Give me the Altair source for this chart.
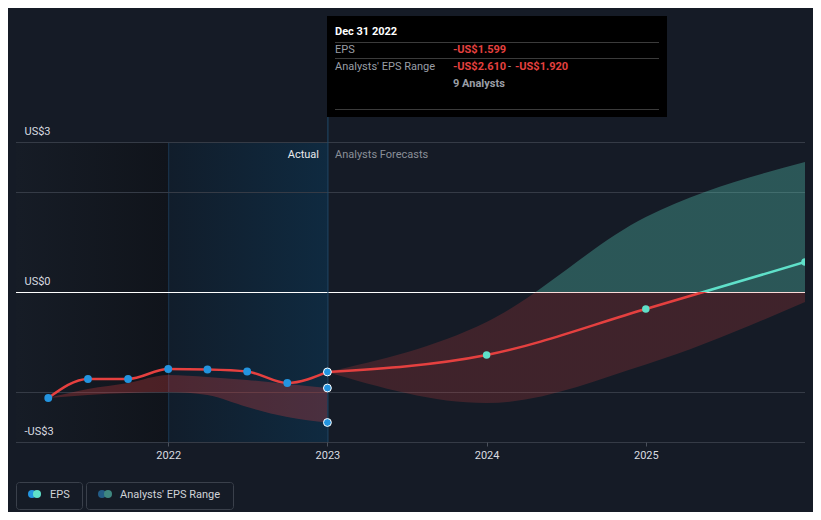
import altair as alt
import pandas as pd

# ---------------- data ----------------
eps_dates = ["2021-03-31", "2021-06-30", "2021-09-30", "2021-12-31",
             "2022-03-31", "2022-06-30", "2022-09-30", "2022-12-31"]
eps_values = [-2.12, -1.74, -1.74, -1.54, -1.55, -1.59, -1.82, -1.599]
hist_low = [-2.12, -2.06, -2.02, -2.00, -2.06, -2.30, -2.50, -2.61]
hist_high = [-2.12, -1.94, -1.82, -1.66, -1.70, -1.76, -1.84, -1.92]

fc_dates = ["2022-12-31", "2023-12-31", "2024-12-31", "2025-12-31"]
fc_values = [-1.599, -1.26, -0.34, 0.60]
fc_low = [-1.599, -2.22, -1.45, -0.20]
fc_high = [-1.599, -0.60, 1.50, 2.60]

x_ticks = [2022, 2023, 2024, 2025]
y_label_values = [-3, 0, 3]
grid_values = [-3, -2, 2, 3]
x_domain_dates = ["2021-01-16", "2025-12-31"]
highlight_dates = ["2021-12-31", "2022-12-31"]
tooltip_date = "2022-12-31"
tooltip_title = "Dec 31 2022"
analysts = 9

# ---------------- styles ----------------
BG = "#151b26"
RED = "#e5403f"
TEAL = "#5fe0c9"
BLUE = "#2394df"
FONT = "Roboto"


def to_year(d):
    t = pd.Timestamp(d)
    n = 366 if t.is_leap_year else 365
    return t.year + t.dayofyear / n


def money(v):
    return ("-US$" if v < 0 else "US$") + f"{abs(v):.3f}"


hist = pd.DataFrame({
    "year": [to_year(d) for d in eps_dates],
    "eps": eps_values,
    "low": hist_low,
    "high": hist_high,
})
fc = pd.DataFrame({
    "year": [to_year(d) for d in fc_dates],
    "eps": fc_values,
    "low": fc_low,
    "high": fc_high,
})
x_min, x_max = [to_year(d) for d in x_domain_dates]
tip_year = to_year(tooltip_date)

xs = alt.Scale(domain=[x_min, x_max], nice=False, zero=False)
ys = alt.Scale(domain=[-3, 3], nice=False, zero=False)

x_axis = alt.Axis(values=x_ticks, format="d", title=None, grid=False, domain=False,
                  ticks=True, tickSize=4, tickColor="#4a505b", labelPadding=3,
                  labelColor="#d9dbe0", labelFont=FONT, labelFontSize=11,
                  labelFlush=False, zindex=1)
y_axis = alt.Axis(values=y_label_values, title=None, grid=False, domain=False,
                  ticks=False, tickSize=0, orient="left", labelAlign="left",
                  labelPadding=-8, labelBaseline="alphabetic", labelOffset=-8,
                  labelColor="#d9dbe0", labelFont=FONT, labelFontSize=11,
                  labelOverlap=False, zindex=1,
                  labelExpr="datum.value < 0 ? '-US$' + abs(datum.value) : 'US$' + datum.value")


def X(field):
    return alt.X(field, type="quantitative", scale=xs, axis=x_axis)


def Y(field):
    return alt.Y(field, type="quantitative", scale=ys, axis=y_axis)


def grad(stops, horizontal=False):
    return alt.LinearGradient(
        gradient="linear",
        stops=[alt.GradientStop(color=c, offset=o) for c, o in stops],
        x1=0, y1=0, x2=1 if horizontal else 0, y2=0 if horizontal else 1)


one = pd.DataFrame({"k": [0]})

# backgrounds
bg_left = alt.Chart(pd.DataFrame({"a": [x_min], "b": [to_year(highlight_dates[0])]})).mark_rect(
    fill=grad([("#161c26", 0), ("#10141b", 1)], horizontal=True)
).encode(x=X("a"), x2="b", y=alt.value(0), y2=alt.value(300))

bg_hl = alt.Chart(pd.DataFrame({"a": [to_year(highlight_dates[0])],
                                "b": [to_year(highlight_dates[1])]})).mark_rect(
    fill=grad([("#111d2b", 0), ("#0f2a40", 1)], horizontal=True)
).encode(x=X("a"), x2="b", y=alt.value(0), y2=alt.value(300))

hl_edge = alt.Chart(pd.DataFrame({"a": [to_year(highlight_dates[0])]})).mark_rule(
    color="#1b3650", strokeWidth=1, xOffset=0.5
).encode(x=X("a"), y=alt.value(0), y2=alt.value(300))

grid = alt.Chart(pd.DataFrame({"v": grid_values})).mark_rule(
    color="#353b46", strokeWidth=1, yOffset=0.5
).encode(y=Y("v"))

zero = alt.Chart(pd.DataFrame({"v": [0]})).mark_rule(
    color="#ffffff", strokeWidth=1, yOffset=0.5
).encode(y=Y("v"))

# areas
hist_area = alt.Chart(hist).mark_area(
    color=RED, opacity=0.28, interpolate="monotone"
).encode(x=X("year"), y=Y("low"), y2="high")

top, bot = max(fc_high), min(fc_low)
off_a = top / (top - bot)
fc_area = alt.Chart(fc).mark_area(
    interpolate="monotone", opacity=1,
    fill=grad([("rgba(94,224,201,0.30)", 0), ("rgba(94,224,201,0.30)", off_a),
               ("rgba(232,66,63,0.20)", off_a), ("rgba(232,66,63,0.20)", 1)])
).encode(x=X("year"), y=Y("low"), y2="high")

# lines
hist_line = alt.Chart(hist).mark_line(
    color=RED, strokeWidth=2.5, interpolate="monotone"
).encode(x=X("year"), y=Y("eps"))

ltop, lbot = max(fc_values), min(fc_values)
off_l = ltop / (ltop - lbot)
fc_line = alt.Chart(fc).mark_line(
    strokeWidth=2.5, interpolate="monotone", clip=True,
    stroke=grad([(TEAL, 0), (TEAL, off_l), (RED, off_l), (RED, 1)])
).encode(x=X("year"), y=Y("eps"))

# tooltip hover rule
tip_rule = alt.Chart(pd.DataFrame({"a": [tip_year]})).mark_rule(
    color="#1f4a6b", strokeWidth=1, xOffset=0.5
).encode(x=X("a"), y=alt.value(-25), y2=alt.value(300))

# points
hist_pts = alt.Chart(hist.iloc[:-1]).mark_point(
    filled=True, color=BLUE, size=62, opacity=1
).encode(x=X("year"), y=Y("eps"))

end_df = pd.DataFrame({"year": [tip_year] * 3,
                       "v": [eps_values[-1], hist_high[-1], hist_low[-1]]})
end_pts = alt.Chart(end_df).mark_point(
    filled=True, fill=BLUE, stroke="#ffffff", strokeWidth=1, size=62, opacity=1
).encode(x=X("year"), y=Y("v"))

fc_pts = alt.Chart(fc.iloc[1:]).mark_point(
    filled=True, color=TEAL, size=56, opacity=1, clip=True
).encode(x=X("year"), y=Y("eps"))


def txt(s, x, y, color, weight="normal", align="left", size=11):
    return alt.Chart(one).mark_text(
        align=align, baseline="alphabetic", font=FONT, fontSize=size,
        fontWeight=weight, color=color
    ).encode(x=alt.value(x), y=alt.value(y), text=alt.value(s))


def box(x0, x1, y0, y1, fill, stroke=None, radius=0):
    kw = dict(fill=fill, cornerRadius=radius)
    if stroke:
        kw.update(stroke=stroke, strokeWidth=1)
    return alt.Chart(one).mark_rect(**kw).encode(
        x=alt.value(x0), x2=alt.value(x1), y=alt.value(y0), y2=alt.value(y1))


def hline(x0, x1, y, color):
    return alt.Chart(one).mark_rule(color=color, strokeWidth=1).encode(
        x=alt.value(x0), x2=alt.value(x1), y=alt.value(y))


def dot(x, y, color):
    return alt.Chart(one).mark_point(filled=True, color=color, size=64, opacity=1).encode(
        x=alt.value(x), y=alt.value(y))


GRAY = "#9a9ea6"
tooltip = [
    box(311, 651, -126, -25, "#000000"),
    hline(319, 643, -99.5, "#3b3b3b"),
    hline(319, 643, -83.5, "#3b3b3b"),
    hline(319, 643, -32.5, "#3b3b3b"),
    txt(tooltip_title, 319, -107, "#ffffff", weight="bold"),
    txt("EPS", 319, -89, GRAY),
    txt(money(eps_values[-1]), 437, -89, RED, weight="bold"),
    txt("Analysts' EPS Range", 319, -72, GRAY),
    txt(money(hist_low[-1]), 437, -72, RED, weight="bold"),
    txt("-", 492, -72, GRAY),
    txt(money(hist_high[-1]), 499, -72, RED, weight="bold"),
    txt(f"{analysts} Analysts", 437, -55, GRAY, weight="bold"),
]

section_labels = [
    txt("Actual", 303, 16, "#e8eaed", align="right"),
    txt("Analysts Forecasts", 319, 16, "#8a8f98"),
]

legend = [
    box(0.5, 66.5, 340.5, 367.5, BG, stroke="#3a404b", radius=3),
    box(70.5, 217.5, 340.5, 367.5, BG, stroke="#3a404b", radius=3),
    dot(16, 352, BLUE), dot(21, 352, TEAL),
    txt("EPS", 34, 356, "#d0d3d8"),
    dot(86, 352, "#235c86"), dot(92, 352, "#3f8780"),
    txt("Analysts' EPS Range", 104, 356, "#d0d3d8"),
]

chart = alt.layer(
    bg_left, bg_hl, hl_edge, grid, zero,
    hist_area, fc_area, hist_line, fc_line,
    tip_rule, hist_pts, end_pts, fc_pts,
    *tooltip, *section_labels, *legend
).properties(
    width=789, height=300,
    autosize=alt.AutoSizeParams(type="none"),
    padding={"left": 8, "top": 134, "right": 8, "bottom": 70},
    background=BG,
).configure_view(stroke=None)

chart.save("out.html", embed_options={"renderer": "svg", "actions": False})
